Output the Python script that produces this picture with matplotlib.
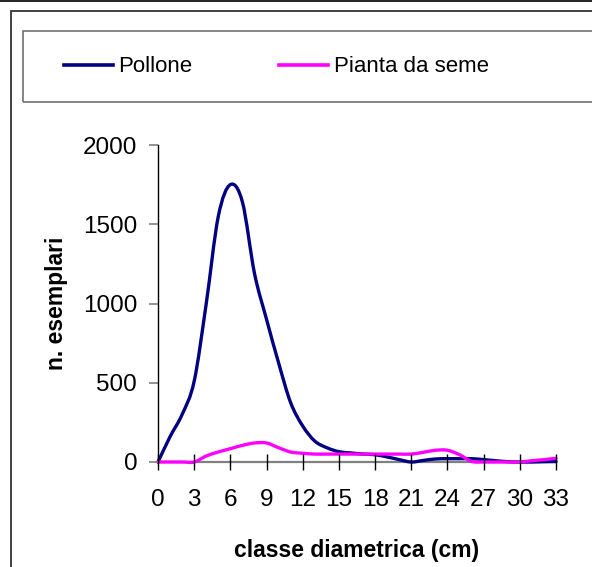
import numpy as np
import matplotlib.pyplot as plt
from matplotlib.path import Path
from matplotlib.patches import PathPatch, Rectangle
from matplotlib.lines import Line2D

# ── data ─────────────────────────────────────────────────────────────────────
classi = list(range(0, 34))
pollone = [0, 160, 300, 510, 1000, 1550, 1750, 1640, 1190, 900, 625, 374,
           227, 132, 90, 65, 57, 50, 46, 32, 15, 0, 10, 19, 21, 21, 21, 15,
           8, 2, 0, 0, 2, 3]
pianta_seme = [0, 0, 0, 0, 38, 63, 84, 105, 120, 120, 90, 63, 55, 50, 50, 50,
               50, 50, 50, 50, 50, 50, 61, 74, 74, 46, 4, 0, 0, 0, 0, 8, 15, 23]
x_ticks = list(range(0, 34, 3))
y_ticks = [0, 500, 1000, 1500, 2000]
serie = [("Pollone", pollone, "#000080"), ("Pianta da seme", pianta_seme, "#FF00FF")]

plt.rcParams["font.family"] = ["Liberation Sans", "DejaVu Sans"]

W, H = 592, 567
fig = plt.figure(figsize=(W / 100, H / 100), dpi=100)


def px(x, y):
    return x / W, 1 - y / H


# outer frame + legend box (Excel chart area look)
fig.add_artist(Line2D([0, 1], [1 - 0.5 / H] * 2, color="black", lw=1.2,
                      transform=fig.transFigure))
fig.add_artist(Rectangle(px(11, 600), 620 / W, 589 / H, transform=fig.transFigure,
                         fill=False, edgecolor="#333333", lw=1.3))
fig.add_artist(Rectangle(px(23, 102), 600 / W, 71 / H, transform=fig.transFigure,
                         fill=False, edgecolor="#666666", lw=1.1))

l, b = px(158, 462)
r, t = px(556, 145)
ax = fig.add_axes([l, b, r - l, t - b])


def smooth_path(xs, ys):
    # smoothed line like Excel: cubic bezier segments through every point
    p = np.column_stack([xs, ys]).astype(float)
    ext = np.vstack([p[0], p, p[-1]])
    verts = [p[0]]
    codes = [Path.MOVETO]
    for i in range(len(p) - 1):
        p0, p1, p2, p3 = ext[i], ext[i + 1], ext[i + 2], ext[i + 3]
        verts += [p1 + (p2 - p0) / 6, p2 - (p3 - p1) / 6, p2]
        codes += [Path.CURVE4] * 3
    return Path(verts, codes)


handles = []
for nome, vals, col in serie:
    ax.add_patch(PathPatch(smooth_path(classi, vals), facecolor="none",
                           edgecolor=col, lw=2.4, capstyle="round",
                           joinstyle="round", clip_on=False))
    handles.append(Line2D([], [], color=col, lw=2.6, label=nome))

ax.set_xlim(0, 33)
ax.set_ylim(0, 2000)
ax.set_xticks(x_ticks)
ax.set_yticks(y_ticks)

for s in ["top", "right"]:
    ax.spines[s].set_visible(False)
ax.spines["left"].set_color("black")
ax.spines["left"].set_linewidth(1.0)
ax.spines["bottom"].set_color("#808080")
ax.spines["bottom"].set_linewidth(1.6)
ax.spines["bottom"].set_zorder(0)

ax.tick_params(axis="x", direction="inout", length=11, width=1.0, color="black",
               labelsize=17.5, pad=14)
ax.tick_params(axis="y", direction="out", length=6.5, width=1.2, color="#808080",
               labelsize=17.5, pad=8.5)

ax.set_xlabel("classe diametrica (cm)", fontsize=16.5, fontweight="bold", labelpad=20)
ax.set_ylabel("n. esemplari", fontsize=16.5, fontweight="bold", labelpad=10.5)

fig.legend(handles=handles, loc="center left", bbox_to_anchor=px(64, 67),
           ncol=2, frameon=False, fontsize=16, handlelength=2.2,
           handletextpad=0.25, columnspacing=3.9, borderpad=0, borderaxespad=0)

fig.savefig("out.png", dpi=100)
